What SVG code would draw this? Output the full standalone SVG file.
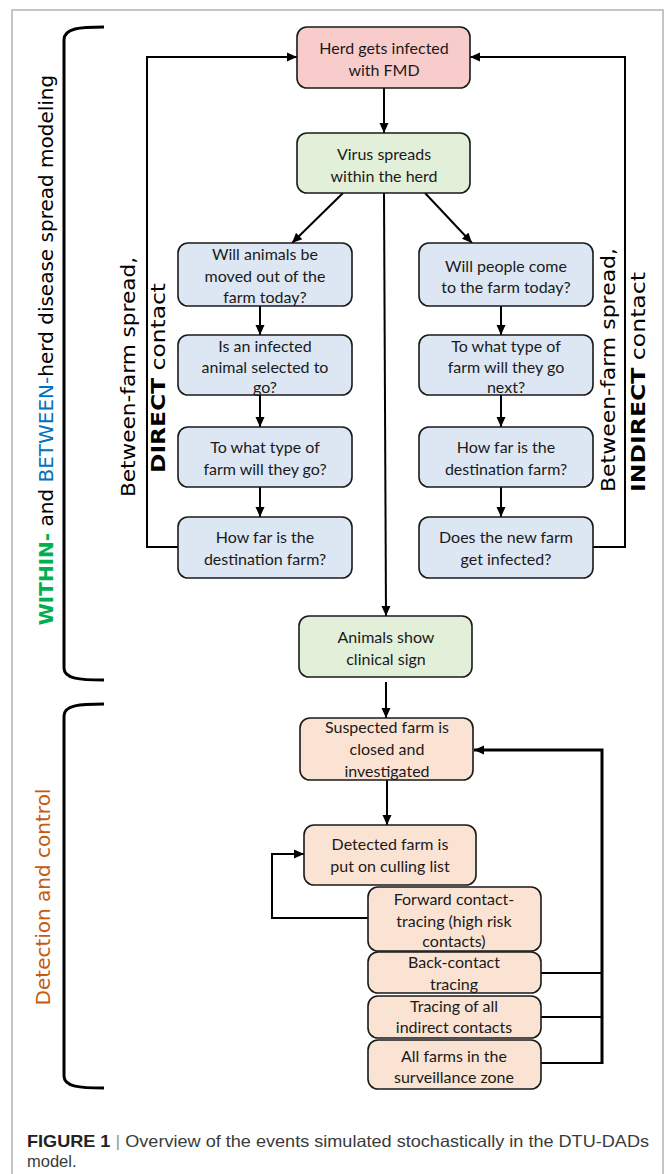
<svg xmlns="http://www.w3.org/2000/svg" width="665" height="1174" viewBox="0 0 665 1174">
<style>
.bx{stroke:#1a1a1a;stroke-width:1.6}
.pink{fill:#f9cccc}
.green{fill:#e2efd9}
.blue{fill:#dde7f4}
.peach{fill:#fbe3d4}
.t{font-family:Lato,"Open Sans",sans-serif;font-size:16px;fill:#1a1a1a;text-anchor:middle}
.c{fill:none;stroke:#000;stroke-width:2}
.thick{fill:none;stroke:#000;stroke-width:3}
.side{font-family:"DejaVu Sans",sans-serif;font-size:20px;fill:#000;text-anchor:middle}
.cap{font-family:"Liberation Sans",Arial,sans-serif;font-size:16.5px;fill:#3a3a3a}
</style>
<defs>
<marker id="ah" viewBox="0 0 10 10" refX="10" refY="5" markerWidth="10" markerHeight="10" markerUnits="userSpaceOnUse" orient="auto"><path d="M0,0.5 L10,5 L0,9.5 z" fill="#000"/></marker>
</defs>
<rect x="0" y="0" width="665" height="1174" fill="#fff"/>
<path d="M12,1180 V10 H663 V1180" fill="none" stroke="#b3b3b3" stroke-width="1.5"/>

<g id="brackets">
<path class="thick" d="M104,27 C80,27 64,28 64,40 V668 C64,679 80,680 104,680"/>
<path class="thick" d="M104,704 C80,704 64,705 64,716 V1076 C64,1087 80,1088 104,1088"/>
</g>

<g id="labels">
<text class="side" transform="translate(53,350) rotate(-90)"><tspan fill="#00b050" font-weight="bold">WITHIN-</tspan> and <tspan fill="#0070c0">BETWEEN-</tspan>herd disease spread modeling</text>
<text class="side" transform="translate(50,897) rotate(-90)" style="fill:#c55a11">Detection and control</text>
<text class="side" transform="translate(135,377) rotate(-90)" textLength="240" lengthAdjust="spacingAndGlyphs">Between-farm spread,</text>
<text class="side" transform="translate(165,378) rotate(-90)" textLength="190" lengthAdjust="spacingAndGlyphs"><tspan font-weight="bold">DIRECT</tspan> contact</text>
<text class="side" transform="translate(615,370) rotate(-90)" textLength="244" lengthAdjust="spacingAndGlyphs">Between-farm spread,</text>
<text class="side" transform="translate(645,382) rotate(-90)" textLength="220" lengthAdjust="spacingAndGlyphs"><tspan font-weight="bold">INDIRECT</tspan> contact</text>
</g>

<g id="connectors">
<path class="c" d="M178,547 H147 V57 H297" marker-end="url(#ah)"/>
<path class="c" d="M593,547 H625 V57 H470" marker-end="url(#ah)"/>
<path class="c" d="M384,88 V133" marker-end="url(#ah)"/>
<path class="c" d="M343,193 L292,243" marker-end="url(#ah)"/>
<path class="c" d="M425,193 L472,243" marker-end="url(#ah)"/>
<path class="c" d="M384,193 L386,616" marker-end="url(#ah)"/>
<path class="c" d="M260,306 V335" marker-end="url(#ah)"/>
<path class="c" d="M260,395 V427" marker-end="url(#ah)"/>
<path class="c" d="M260,487 V517" marker-end="url(#ah)"/>
<path class="c" d="M501,306 V335" marker-end="url(#ah)"/>
<path class="c" d="M501,395 V427" marker-end="url(#ah)"/>
<path class="c" d="M501,487 V517" marker-end="url(#ah)"/>
<path class="c" d="M386,682 V718" marker-end="url(#ah)"/>
<path class="c" d="M387,780 V825" marker-end="url(#ah)"/>
<path class="c" d="M368,918 H272 V854 H304" marker-end="url(#ah)"/>
<path class="c" d="M541,973 H602"/>
<path class="c" d="M541,1017 H602"/>
<path class="c" d="M541,1063 H602"/>
<path class="thick" d="M602,1064 V750 H474" marker-end="url(#ah)"/>
</g>

<g id="n-herd"><rect class="bx pink" x="297" y="27" width="173" height="61" rx="10"/>
<text class="t" x="384" y="54">Herd gets infected</text><text class="t" x="384" y="76">with FMD</text></g>

<g id="n-virus"><rect class="bx green" x="297" y="133" width="173" height="60" rx="10"/>
<text class="t" x="384" y="160">Virus spreads</text><text class="t" x="384" y="182">within the herd</text></g>

<g id="n-moved"><rect class="bx blue" x="178" y="243" width="174" height="63" rx="10"/>
<text class="t" x="265" y="260">Will animals be</text><text class="t" x="265" y="282">moved out of the</text><text class="t" x="265" y="303">farm today?</text></g>

<g id="n-selected"><rect class="bx blue" x="178" y="335" width="174" height="60" rx="10"/>
<text class="t" x="265" y="352">Is an infected</text><text class="t" x="265" y="373">animal selected to</text><text class="t" x="265" y="393">go?</text></g>

<g id="n-type-d"><rect class="bx blue" x="178" y="427" width="174" height="60" rx="10"/>
<text class="t" x="265" y="453">To what type of</text><text class="t" x="265" y="475">farm will they go?</text></g>

<g id="n-far-d"><rect class="bx blue" x="178" y="517" width="174" height="61" rx="10"/>
<text class="t" x="265" y="543">How far is the</text><text class="t" x="265" y="565">destination farm?</text></g>

<g id="n-people"><rect class="bx blue" x="419" y="243" width="174" height="63" rx="10"/>
<text class="t" x="506" y="272">Will people come</text><text class="t" x="506" y="293">to the farm today?</text></g>

<g id="n-type-i"><rect class="bx blue" x="419" y="335" width="174" height="60" rx="10"/>
<text class="t" x="506" y="352">To what type of</text><text class="t" x="506" y="373">farm will they go</text><text class="t" x="506" y="393">next?</text></g>

<g id="n-far-i"><rect class="bx blue" x="419" y="427" width="174" height="60" rx="10"/>
<text class="t" x="506" y="453">How far is the</text><text class="t" x="506" y="475">destination farm?</text></g>

<g id="n-infected"><rect class="bx blue" x="419" y="517" width="174" height="61" rx="10"/>
<text class="t" x="506" y="543">Does the new farm</text><text class="t" x="506" y="565">get infected?</text></g>

<g id="n-clinical"><rect class="bx green" x="299" y="616" width="173" height="61" rx="10"/>
<text class="t" x="386" y="643">Animals show</text><text class="t" x="386" y="665">clinical sign</text></g>

<g id="n-suspected"><rect class="bx peach" x="300" y="718" width="173" height="62" rx="10"/>
<text class="t" x="387" y="733">Suspected farm is</text><text class="t" x="387" y="755">closed and</text><text class="t" x="387" y="777">investigated</text></g>

<g id="n-detected"><rect class="bx peach" x="304" y="825" width="172" height="60" rx="10"/>
<text class="t" x="390" y="850">Detected farm is</text><text class="t" x="390" y="872">put on culling list</text></g>

<g id="n-forward"><rect class="bx peach" x="368" y="887" width="173" height="64" rx="10"/>
<text class="t" x="454" y="905">Forward contact-</text><text class="t" x="454" y="927">tracing (high risk</text><text class="t" x="454" y="947">contacts)</text></g>

<g id="n-back"><rect class="bx peach" x="368" y="952" width="173" height="41" rx="10"/>
<text class="t" x="454" y="968">Back-contact</text><text class="t" x="454" y="990">tracing</text></g>

<g id="n-indirect"><rect class="bx peach" x="368" y="996" width="173" height="42" rx="10"/>
<text class="t" x="454" y="1012">Tracing of all</text><text class="t" x="454" y="1033">indirect contacts</text></g>

<g id="n-zone"><rect class="bx peach" x="368" y="1040" width="173" height="49" rx="10"/>
<text class="t" x="454" y="1062">All farms in the</text><text class="t" x="454" y="1083">surveillance zone</text></g>

<g id="caption">
<text class="cap" x="27" y="1147" textLength="622" lengthAdjust="spacingAndGlyphs"><tspan font-weight="bold" fill="#222">FIGURE 1</tspan> <tspan fill="#999">|</tspan> Overview of the events simulated stochastically in the DTU-DADs</text>
<text class="cap" x="27" y="1167">model.</text>
</g>
</svg>
